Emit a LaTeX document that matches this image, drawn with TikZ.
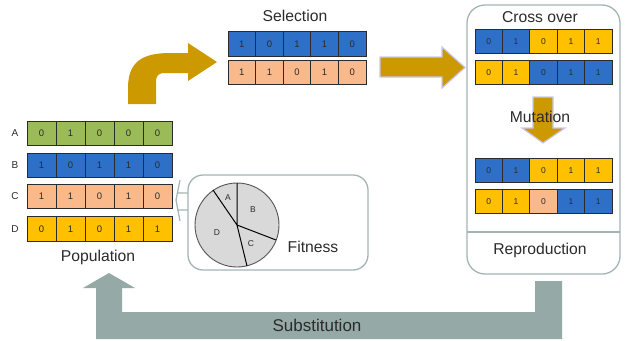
\documentclass[tikz,border=0pt]{standalone}
\usepackage{fontspec}
\setmainfont{Liberation Sans}
\definecolor{genegreen}{HTML}{9BBB59}
\definecolor{geneblue}{HTML}{2E70C8}
\definecolor{genesalmon}{HTML}{F9B98B}
\definecolor{genegold}{HTML}{FFC000}
\definecolor{flowgold}{HTML}{CC9900}
\definecolor{flowgray}{HTML}{95A9A7}
\definecolor{framegray}{HTML}{A3B5B3}
\definecolor{glow}{HTML}{C9C7F2}
\definecolor{ink}{HTML}{2B2B2B}
\definecolor{piefill}{HTML}{D9D9D9}

% one chromosome: name, left x, centre y, cell width, {colour/bit,...}
\newcommand\chromosome[5]{%
  \foreach \col/\bit [count=\i] in {#5} {
    \node[cell, minimum width=#4pt, fill=\col] (#1-\i) at ({#2+(\i-0.5)*#4},#3) {\bit};
  }%
}

\tikzset{
  cell/.style={draw=ink, line width=0.9pt, minimum height=24.5pt, inner sep=0pt,
    font=\fontsize{9.5}{9.5}\selectfont, text=ink},
  title/.style={font=\fontsize{15.7}{15.7}\selectfont, text=ink, inner sep=0pt},
  tag/.style={font=\fontsize{10}{10}\selectfont, text=ink, inner sep=0pt},
  slice/.style={font=\fontsize{8.5}{8.5}\selectfont, text=ink, inner sep=0pt},
  frame/.style={draw=framegray, line width=1.3pt, rounded corners=16pt},
  goldflow/.style={fill=flowgold, draw=none},
  glowflow/.style={fill=flowgold, draw=glow, line width=1.2pt},
  grayflow/.style={fill=flowgray, draw=none},
}

\begin{document}
\begin{tikzpicture}[x=1pt, y=-1pt]
\useasboundingbox (0,0) rectangle (626,340);

% ---- substitution loop (bottom) ----
\fill[grayflow] (562,281) -- (562,339) -- (96,339) -- (96,288) -- (83,288)
  -- (109,273) -- (135,288) -- (122,288) -- (122,312) -- (535,312) -- (535,281) -- cycle;
\node[title, font=\fontsize{17}{17}\selectfont] (subst) at (317,325) {Substitution};

% ---- population ----
\chromosome{popA}{27}{133.5}{29}{genegreen/0,genegreen/1,genegreen/0,genegreen/0,genegreen/0}
\chromosome{popB}{27}{165.5}{29}{geneblue/1,geneblue/0,geneblue/1,geneblue/1,geneblue/0}
\chromosome{popC}{27}{196.5}{29}{genesalmon/1,genesalmon/1,genesalmon/0,genesalmon/1,genesalmon/0}
\chromosome{popD}{27}{229}{29}{genegold/0,genegold/1,genegold/0,genegold/1,genegold/1}
\node[tag] (tagA) at (15,133.5) {A};
\node[tag] (tagB) at (15,165.5) {B};
\node[tag] (tagC) at (15,196.5) {C};
\node[tag] (tagD) at (15,229) {D};
\node[title] (population) at (98,257) {Population};

% ---- fitness callout with roulette wheel ----
\draw[frame, rounded corners=15pt] (188,175) rectangle (368,270);
\draw[draw=framegray, line width=1.2pt]
  (188,193) -- (177,193) (188,210) -- (177,210)
  (180,180) -- (176,200) -- (180,221);
\coordinate (pc) at (237,225);
\draw[fill=piefill, draw=ink!80, line width=0.9pt] (pc) circle[radius=42pt];
\draw[draw=black, line width=1pt] (pc) -- (237,183) (pc) -- (276,240)
  (pc) -- (247,266) (pc) -- (213,190);
\node[slice] (sA) at (228,198) {A};
\node[slice] (sB) at (253,210) {B};
\node[slice] (sC) at (251,244) {C};
\node[slice] (sD) at (217,233) {D};
\node[title] (fitness) at (313,247) {Fitness};

% ---- selection ----
\chromosome{selA}{228}{44}{27.6}{geneblue/1,geneblue/0,geneblue/1,geneblue/1,geneblue/0}
\chromosome{selB}{228}{72.5}{27.6}{genesalmon/1,genesalmon/1,genesalmon/0,genesalmon/1,genesalmon/0}
\node[title] (selection) at (295,16) {Selection};

% bent arrow from population up to selection
\fill[goldflow] (128,104) -- (128,88) .. controls (128,62) and (142,53) .. (170,53)
  -- (188,53) -- (188,43) -- (217,62) -- (188,81) -- (188,73) -- (164,73)
  .. controls (159,73) and (156,76) .. (156,81) -- (156,104) -- cycle;

% ---- reproduction: cross over and mutation ----
\draw[frame, rounded corners=18pt] (467,5) rectangle (620,274);
\draw[draw=framegray, line width=1.3pt] (467,232) -- (620,232);
\node[title] (crossover) at (540,17) {Cross over};
\node[title] (reproduction) at (540,250) {Reproduction};

\begin{scope}[cell/.append style={font=\fontsize{8.5}{8.5}\selectfont, minimum height=24pt}]
\chromosome{coA}{475}{41.5}{27.4}{geneblue/0,geneblue/1,genegold/0,genegold/1,genegold/1}
\chromosome{coB}{475}{72.5}{27.4}{genegold/0,genegold/1,geneblue/0,geneblue/1,geneblue/1}
\chromosome{muA}{475}{170.5}{27.4}{geneblue/0,geneblue/1,genegold/0,genegold/1,genegold/1}
\chromosome{muB}{475}{201.5}{27.4}{genegold/0,genegold/1,genesalmon/0,geneblue/1,geneblue/1}
\end{scope}

% arrow from selection into cross over
\filldraw[glowflow] (380,57) -- (442,57) -- (442,47) -- (465,67.5) -- (442,88)
  -- (442,77) -- (380,77) -- cycle;

% mutation arrow
\filldraw[glowflow] (533,97) -- (553,97) -- (553,128) -- (565,128) -- (543,143)
  -- (522,128) -- (533,128) -- cycle;
\node[title] (mutation) at (540,117) {Mutation};

\end{tikzpicture}
\end{document}
